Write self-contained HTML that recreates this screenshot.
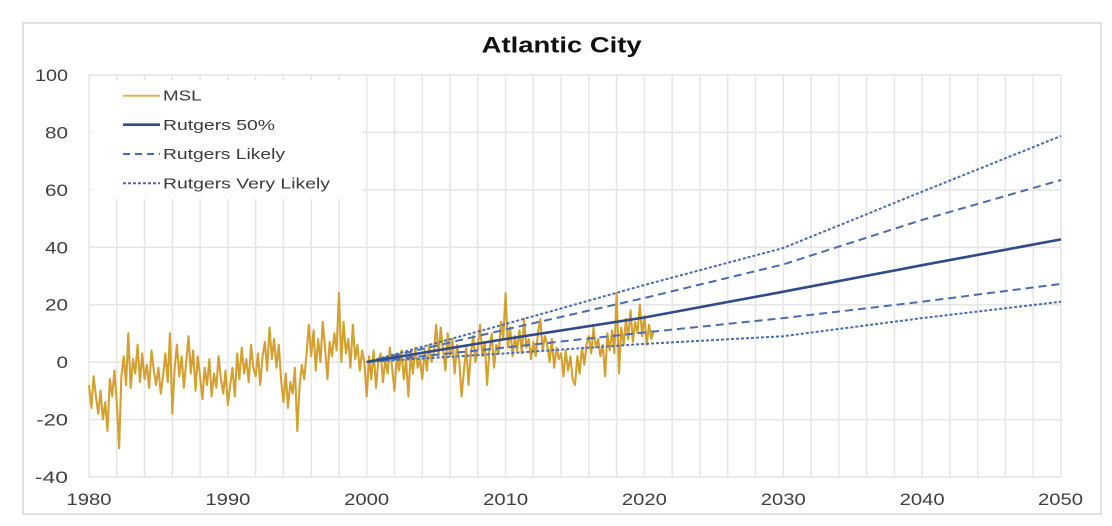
<!DOCTYPE html>
<html>
<head>
<meta charset="utf-8">
<style>
  html, body { margin: 0; padding: 0; background: #ffffff; }
  body { width: 1112px; height: 526px; overflow: hidden; }
  svg { display: block; }
  text { font-family: "Liberation Sans", Arial, sans-serif; }
</style>
</head>
<body>
<svg width="1112" height="526" viewBox="0 0 1112 526" xmlns="http://www.w3.org/2000/svg">
  <rect x="0" y="0" width="1112" height="526" fill="#ffffff"/>
  <!-- outer chart border -->
  <rect x="23" y="23" width="1078" height="491" fill="none" stroke="#d9d9d9" stroke-width="1.5"/>

  <!-- title -->
  <text x="481.7" y="52.3" font-size="22" font-weight="bold" fill="#111" textLength="160" lengthAdjust="spacingAndGlyphs">Atlantic City</text>

  <!-- gridlines -->
  <path fill="none" stroke="#e6e6e6" stroke-width="1.5" d="
    M89 75V477 M116.8 75V477 M144.5 75V477 M172.3 75V477 M200.1 75V477 M227.9 75V477
    M255.6 75V477 M283.4 75V477 M311.2 75V477 M338.9 75V477 M366.7 75V477 M394.5 75V477
    M422.3 75V477 M450 75V477 M477.8 75V477 M505.6 75V477 M533.3 75V477 M561.1 75V477
    M588.9 75V477 M616.6 75V477 M644.4 75V477 M672.2 75V477 M700 75V477 M727.7 75V477
    M755.5 75V477 M783.3 75V477 M811 75V477 M838.8 75V477 M866.6 75V477 M894.4 75V477
    M922.1 75V477 M949.9 75V477 M977.7 75V477 M1005.4 75V477 M1033.2 75V477 M1061 75V477
    M89 75H1061 M89 132.4H1061 M89 189.9H1061 M89 247.3H1061 M89 304.7H1061
    M89 362.1H1061 M89 419.6H1061 M89 477H1061"/>

  <!-- y tick labels -->
  <g font-size="16.5" fill="#404040">
    <text x="35" y="81" textLength="33" lengthAdjust="spacingAndGlyphs">100</text>
    <text x="45" y="138.4" textLength="23" lengthAdjust="spacingAndGlyphs">80</text>
    <text x="45" y="195.9" textLength="23" lengthAdjust="spacingAndGlyphs">60</text>
    <text x="45" y="253.3" textLength="23" lengthAdjust="spacingAndGlyphs">40</text>
    <text x="45" y="310.7" textLength="23" lengthAdjust="spacingAndGlyphs">20</text>
    <text x="56.5" y="368.1" textLength="11.5" lengthAdjust="spacingAndGlyphs">0</text>
    <text x="36.3" y="425.6" textLength="31.7" lengthAdjust="spacingAndGlyphs">-20</text>
    <text x="35" y="483" textLength="33" lengthAdjust="spacingAndGlyphs">-40</text>
  </g>

  <!-- x tick labels -->
  <g font-size="16.5" fill="#404040">
    <text x="66.5" y="505" textLength="45" lengthAdjust="spacingAndGlyphs">1980</text>
    <text x="205.4" y="505" textLength="45" lengthAdjust="spacingAndGlyphs">1990</text>
    <text x="344.2" y="505" textLength="45" lengthAdjust="spacingAndGlyphs">2000</text>
    <text x="483.1" y="505" textLength="45" lengthAdjust="spacingAndGlyphs">2010</text>
    <text x="621.9" y="505" textLength="45" lengthAdjust="spacingAndGlyphs">2020</text>
    <text x="760.8" y="505" textLength="45" lengthAdjust="spacingAndGlyphs">2030</text>
    <text x="899.6" y="505" textLength="45" lengthAdjust="spacingAndGlyphs">2040</text>
    <text x="1038" y="505" textLength="45" lengthAdjust="spacingAndGlyphs">2050</text>
  </g>

  <!-- MSL series (data units: years since 1980, value) -->
  <g transform="matrix(13.886,0,0,-2.871,89,362)">
    <polyline fill="none" stroke="#d4a030" stroke-width="2.1" stroke-linejoin="round" vector-effect="non-scaling-stroke" points="
0,-8 .17,-16 .33,-5 .5,-12 .67,-18 .83,-10
1,-20 1.17,-14 1.33,-24 1.5,-6 1.67,-12 1.83,-3
2,-14 2.17,-30 2.33,-5 2.5,2 2.67,-8 2.83,10
3,-9 3.17,1 3.33,-4 3.5,6 3.67,-7 3.83,3
4,-6 4.17,-1 4.33,-9 4.5,4 4.67,-3 4.83,-8
5,-2 5.17,-11 5.33,-5 5.5,3 5.67,-7 5.83,10
6,-18 6.17,-2 6.33,6 6.5,-5 6.67,2 6.83,-9
7,0 7.17,9 7.33,-4 7.5,4 7.67,-10 7.83,2
8,-5 8.17,-13 8.33,-2 8.5,-8 8.67,1 8.83,-12
9,-4 9.17,-9 9.33,2 9.5,-6 9.67,-11 9.83,-3
10,-15 10.17,-8 10.33,-2 10.5,-12 10.67,3 10.83,-6
11,5 11.17,-4 11.33,1 11.5,-7 11.67,6 11.83,-2
12,-5 12.17,3 12.33,-8 12.5,2 12.67,7 12.83,-3
13,12 13.17,1 13.33,8 13.5,-2 13.67,6 13.83,-6
14,-14 14.17,-4 14.33,-16 14.5,-7 14.67,-11 14.83,-2
15,-24 15.17,-8 15.33,-1 15.5,-6 15.67,3 15.83,13
16,2 16.17,11 16.33,-3 16.5,8 16.67,0 16.83,14
17,5 17.17,-6 17.33,7 17.5,2 17.67,10 17.83,4
18,24 18.17,0 18.33,14 18.5,3 18.67,8 18.83,-2
19,13 19.17,1 19.33,6 19.5,-3 19.67,4 19.83,0
20,-12 20.17,2 20.33,-6 20.5,4 20.67,-9 20.83,0
21,3 21.17,-7 21.33,1 21.5,-4 21.67,5 21.83,-2
22,-10 22.17,2 22.33,-3 22.5,4 22.67,-6 22.83,1
23,-12 23.17,3 23.33,-4 23.5,5 23.67,-2 23.83,1
24,-6 24.17,4 24.33,-3 24.5,6 24.67,0 24.83,3
25,13 25.17,2 25.33,12 25.5,4 25.67,-3 25.83,10
26,2 26.17,8 26.33,-4 26.5,6 26.67,0 26.83,-12
27,-3 27.17,5 27.33,-8 27.5,3 27.67,9 27.83,0
28,5 28.17,13 28.33,2 28.5,7 28.67,-8 28.83,4
29,10 29.17,-2 29.33,6 29.5,3 29.67,14 29.83,8
30,24 30.17,5 30.33,12 30.5,2 30.67,9 30.83,4
31,11 31.17,3 31.33,15 31.5,5 31.67,8 31.83,1
32,7 32.17,2 32.33,10 32.5,15 32.67,4 32.83,9
33,6 33.17,0 33.33,8 33.5,-2 33.67,5 33.83,1
34,3 34.17,-5 34.33,4 34.5,-3 34.67,2 34.83,-6
35,-8 35.17,2 35.33,-4 35.5,5 35.67,-1 35.83,6
36,9 36.17,3 36.33,12 36.5,5 36.67,8 36.83,2
37,6 37.17,-5 37.33,10 37.5,4 37.67,11 37.83,3
38,24 38.17,-4 38.33,12 38.5,6 38.67,15 38.83,8
39,18 39.17,7 39.33,14 39.5,10 39.67,20 39.83,9
40,16 40.17,6 40.33,13 40.5,8 40.67,11"/>
  </g>

  <!-- Rutgers projections -->
  <polyline fill="none" stroke="#4a6db0" stroke-width="2" stroke-dasharray="3 2" points="366.7,362 505.6,324 644.4,285 783.3,248 922.1,191.7 1061,136"/>
  <polyline fill="none" stroke="#4a6db0" stroke-width="2" stroke-dasharray="3 2" points="366.7,362 505.6,353.4 644.4,343.9 783.3,336.2 922.1,318.1 1061,301.7"/>
  <polyline fill="none" stroke="#4a6db0" stroke-width="2" stroke-dasharray="8 5" points="366.7,362 505.6,329.5 644.4,298 783.3,264.4 922.1,219.9 1061,180"/>
  <polyline fill="none" stroke="#4a6db0" stroke-width="2" stroke-dasharray="8 5" points="366.7,362 505.6,347.5 644.4,332.5 783.3,318.1 922.1,301.7 1061,283.9"/>
  <polyline fill="none" stroke="#2f4b8a" stroke-width="2.6" stroke-linejoin="round" points="366.7,362 505.6,339 644.4,317.5 783.3,291.7 922.1,265.2 1061,239.4"/>

  <!-- legend -->
  <rect x="92" y="80" width="270" height="119" fill="#ffffff"/>
  <line x1="123" y1="95.7" x2="160" y2="95.7" stroke="#e0b550" stroke-width="2"/>
  <line x1="123" y1="124.7" x2="160" y2="124.7" stroke="#2f4b8a" stroke-width="2.6"/>
  <line x1="123" y1="154" x2="160" y2="154" stroke="#4a6db0" stroke-width="2" stroke-dasharray="7 5"/>
  <line x1="123" y1="183.3" x2="160" y2="183.3" stroke="#4a6db0" stroke-width="2" stroke-dasharray="3 2"/>
  <g font-size="15" fill="#3b3b3b">
    <text x="163" y="100.7" textLength="38.5" lengthAdjust="spacingAndGlyphs">MSL</text>
    <text x="163" y="130" textLength="112" lengthAdjust="spacingAndGlyphs">Rutgers 50%</text>
    <text x="163" y="159" textLength="122" lengthAdjust="spacingAndGlyphs">Rutgers Likely</text>
    <text x="163" y="188.3" textLength="167" lengthAdjust="spacingAndGlyphs">Rutgers Very Likely</text>
  </g>
</svg>
</body>
</html>
